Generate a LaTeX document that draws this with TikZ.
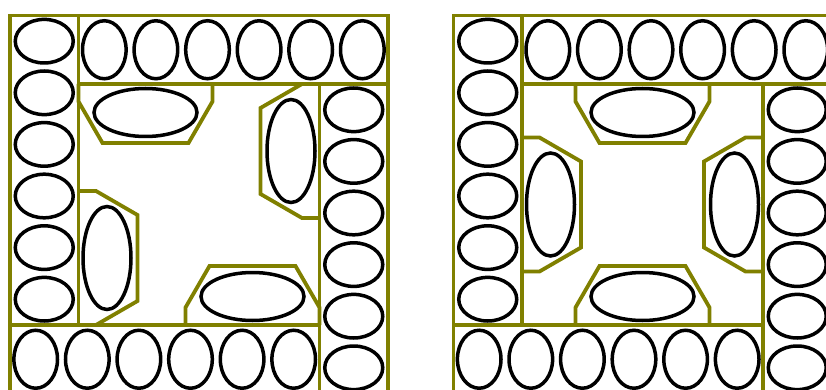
\documentclass[tikz,border=0pt]{standalone}
\usepackage{tikz}
\definecolor{wallolive}{RGB}{128,128,0}
\usetikzlibrary{calc}

\begin{document}
\begin{tikzpicture}[x=1pt, y=-1pt,
  wall/.style={draw=wallolive, line width=3.8pt},
  seat/.style={draw=black, line width=3.5pt},
  bench/.style={draw=wallolive, line width=3.8pt}
]
  \useasboundingbox (0,0) rectangle (826,390);
  \clip (0,0) rectangle (826,390);

  \foreach \cx/\off in {199/-53.5, 642.5/0}{
    \begin{scope}[shift={(\cx,204.5)}]
      \draw[wall] (-189,-189) rectangle (189,189);
      \foreach \ang in {0,90,180,270}{
        \begin{scope}[rotate=\ang]
          \draw[wall] (-120.5,-120.5) -- (189,-120.5);
          \foreach \i in {1,...,6}
            \draw[seat] ({-120.5+25.8*(2*\i-1)},-154.75) ellipse [x radius=21.8, y radius=29];
          \draw[bench] ({\off-67},-120.5) -- ({\off-67},-103) -- ({\off-43},-61.5)
            -- ({\off+43},-61.5) -- ({\off+67},-103) -- ({\off+67},-120.5);
          \draw[seat] (\off,-92) ellipse [x radius=51.5, y radius=24];
        \end{scope}
      }
    \end{scope}
  }
\end{tikzpicture}
\end{document}
